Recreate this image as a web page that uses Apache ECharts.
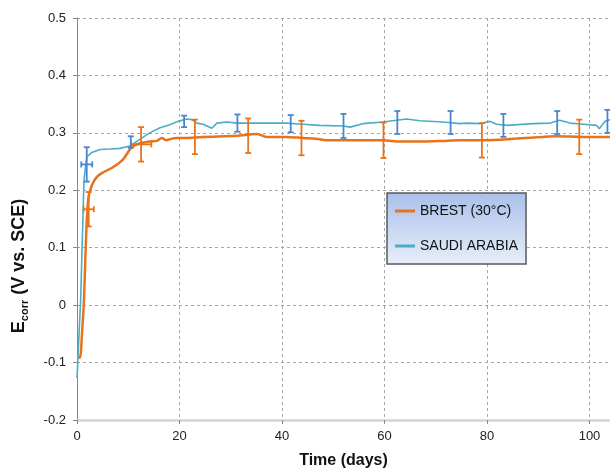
<!DOCTYPE html>
<html>
<head>
<meta charset="utf-8">
<script src="https://cdn.jsdelivr.net/npm/echarts@6/dist/echarts.min.js"></script>
<style>html,body{margin:0;padding:0;background:#fff;}#c{width:610px;height:474px;}</style>
</head>
<body>
<div id="c"></div>
<script>
// ---- data ----
const seriesNames = ['BREST (30°C)', 'SAUDI ARABIA'];
const xTicks = [0, 20, 40, 60, 80, 100];
const yTicks = [-0.2, -0.1, 0, 0.1, 0.2, 0.3, 0.4, 0.5];

// BREST (30°C): [days, Ecorr]
const brestLine = [
  [0.4,-0.093],[0.7,-0.087],[0.92,-0.058],[1.37,0.011],[1.76,0.115],[2.2,0.185],[2.87,0.208],
  [3.84,0.223],[5.07,0.231],[7.0,0.240],[9.0,0.254],[10.7,0.275],[12.3,0.282],[14.2,0.285],
  [15.6,0.286],[16.5,0.291],[17.5,0.287],[18.1,0.289],[19.5,0.291],[20.7,0.291],[24.6,0.293],
  [31.2,0.295],[35.1,0.298],[37.0,0.293],[40.9,0.293],[44.1,0.291],[47.4,0.289],[48.7,0.287],
  [55.2,0.287],[59.7,0.287],[63.0,0.285],[68.2,0.285],[71.4,0.286],[74.7,0.287],[79.3,0.287],
  [85.8,0.290],[91.0,0.293],[93.6,0.294],[98.8,0.293],[104,0.293]
];
// SAUDI ARABIA: [days, Ecorr]
const saudiLine = [
  [0,-0.127],[0.3,-0.07],[0.72,0.011],[1.04,0.115],[1.37,0.219],[1.9,0.258],[2.9,0.266],
  [4.5,0.271],[6.5,0.272],[8.4,0.273],[10.3,0.277],[12.3,0.289],[14.2,0.300],[16.2,0.309],
  [18.1,0.314],[19.7,0.320],[21.4,0.324],[22.4,0.323],[23.4,0.317],[24.6,0.315],[26.3,0.308],
  [27.3,0.317],[29.2,0.319],[31.2,0.317],[34.3,0.317],[37.7,0.317],[40.9,0.317],[44.1,0.315],
  [47.4,0.313],[51.9,0.312],[53.3,0.310],[55.8,0.316],[59.7,0.319],[64.3,0.324],[66.9,0.321],
  [71.4,0.319],[74.7,0.316],[76.0,0.317],[78.6,0.316],[80.6,0.320],[81.9,0.315],[83.9,0.313],
  [89.0,0.316],[92.3,0.317],[94.2,0.322],[96.2,0.317],[98.8,0.315],[101.4,0.313],[101.9,0.307],
  [103.0,0.320],[104,0.323]
];
// error bars: [days, Ecorr, ±Ecorr, ±days]
const brestErr = [
  [2.28,0.167,0.030,1.0],[12.5,0.280,0.030,2.0],[23.0,0.293,0.030,0],[33.4,0.295,0.030,0],
  [43.8,0.291,0.030,0],[59.8,0.287,0.031,0],[79.0,0.287,0.030,0],[98.0,0.293,0.030,0]
];
const saudiErr = [
  [1.9,0.245,0.030,1.07],[10.5,0.284,0.010,0],[20.9,0.320,0.010,0],[31.3,0.317,0.015,0],
  [41.7,0.316,0.015,0],[52.0,0.312,0.021,0],[62.5,0.318,0.020,0],[72.9,0.318,0.020,0],
  [83.2,0.313,0.020,0],[93.7,0.318,0.020,0],[103.5,0.320,0.020,0]
];

const ORANGE = '#E8731A';
const CYAN = '#4BACC6';
const BLUE = '#4A86CF';
const FONT = '"Liberation Sans", Arial, sans-serif';

function errRender(color) {
  return function (params, api) {
    const x = api.value(0), y = api.value(1), dy = api.value(2), dx = api.value(3);
    const top = api.coord([x, y + dy]);
    const bot = api.coord([x, y - dy]);
    const cap = 3;
    const st = { stroke: color, lineWidth: 1.8 };
    const ch = [
      { type: 'line', shape: { x1: top[0], y1: top[1], x2: bot[0], y2: bot[1] }, style: st },
      { type: 'line', shape: { x1: top[0] - cap, y1: top[1], x2: top[0] + cap, y2: top[1] }, style: st },
      { type: 'line', shape: { x1: bot[0] - cap, y1: bot[1], x2: bot[0] + cap, y2: bot[1] }, style: st }
    ];
    if (dx > 0) {
      const l = api.coord([x - dx, y]);
      const r = api.coord([x + dx, y]);
      ch.push(
        { type: 'line', shape: { x1: l[0], y1: l[1], x2: r[0], y2: r[1] }, style: st },
        { type: 'line', shape: { x1: l[0], y1: l[1] - cap, x2: l[0], y2: l[1] + cap }, style: st },
        { type: 'line', shape: { x1: r[0], y1: r[1] - cap, x2: r[0], y2: r[1] + cap }, style: st }
      );
    }
    return { type: 'group', children: ch };
  };
}

const chart = echarts.init(document.getElementById('c'), null, { renderer: 'canvas' });
chart.setOption({
  animation: false,
  backgroundColor: '#fff',
  textStyle: { fontFamily: FONT },
  grid: { left: 77, top: 18, right: 0, bottom: 49, containLabel: false },
  xAxis: {
    type: 'value', min: xTicks[0], max: 104, interval: 20,
    axisLine: { show: true, onZero: false, lineStyle: { color: '#d4d4d4', width: 2.5 } },
    axisTick: { show: true, inside: false, length: 4, lineStyle: { color: '#888' } },
    axisLabel: { showMaxLabel: false, color: '#222', fontSize: 13, margin: 10, fontFamily: FONT,
      formatter: v => (xTicks.indexOf(v) >= 0 ? String(v) : '') },
    splitLine: { show: true, lineStyle: { color: '#a6a6a6', type: [3, 3], width: 1 } },
    name: 'Time (days)', nameLocation: 'middle', nameGap: 33,
    nameTextStyle: { fontSize: 16, fontWeight: 'bold', color: '#111', fontFamily: FONT }
  },
  yAxis: {
    type: 'value', min: yTicks[0], max: yTicks[yTicks.length - 1], interval: 0.1,
    axisLine: { show: true, onZero: false, lineStyle: { color: '#868686', width: 1 } },
    axisTick: { show: true, inside: false, length: 4, lineStyle: { color: '#868686' } },
    axisLabel: { color: '#222', fontSize: 13, margin: 11, fontFamily: FONT,
      formatter: v => { const r = Math.round(v * 10) / 10; return r === 0 ? '0' : r.toFixed(1); } },
    splitLine: { show: true, lineStyle: { color: '#a6a6a6', type: [3, 3], width: 1 } }
  },
  legend: {
    orient: 'vertical', left: 387, top: 193,
    padding: [11, 8, 11, 8], itemGap: 21, itemWidth: 20, itemHeight: 3, icon: 'rect',
    textStyle: { fontSize: 14, color: '#111', fontFamily: FONT },
    backgroundColor: { type: 'linear', x: 0, y: 0, x2: 0, y2: 1,
      colorStops: [{ offset: 0, color: '#a9c0ea' }, { offset: 1, color: '#e8eef9' }] },
    borderColor: '#595959', borderWidth: 1.5, borderRadius: 0,
    data: [{ name: seriesNames[0] }, { name: seriesNames[1] }]
  },
  graphic: [{
    type: 'text', x: 19, y: 266, rotation: Math.PI / 2, z: 10,
    style: {
      text: '{b|E}{s|corr}{b| (V vs. SCE)}',
      align: 'center', verticalAlign: 'middle',
      rich: {
        b: { fontSize: 18, fontWeight: 'bold', fill: '#111', fontFamily: FONT, lineHeight: 22, verticalAlign: 'middle' },
        s: { fontSize: 11, fontWeight: 'bold', fill: '#111', fontFamily: FONT, lineHeight: 22, verticalAlign: 'bottom', padding: [6, 0, 0, 0] }
      }
    }
  }],
  series: [
    { name: seriesNames[0], type: 'line', data: brestLine, showSymbol: false, smooth: 0.3,
      color: ORANGE, lineStyle: { color: ORANGE, width: 2.5 }, z: 3 },
    { name: seriesNames[1], type: 'line', data: saudiLine, showSymbol: false, smooth: false,
      color: CYAN, lineStyle: { color: CYAN, width: 1.6 }, z: 2 },
    { name: 'errBrest', type: 'custom', data: brestErr, renderItem: errRender(ORANGE), z: 5, silent: true,
      encode: { x: 0, y: 1 } },
    { name: 'errSaudi', type: 'custom', data: saudiErr, renderItem: errRender(BLUE), z: 5, silent: true,
      encode: { x: 0, y: 1 } }
  ]
});
</script>
</body>
</html>
